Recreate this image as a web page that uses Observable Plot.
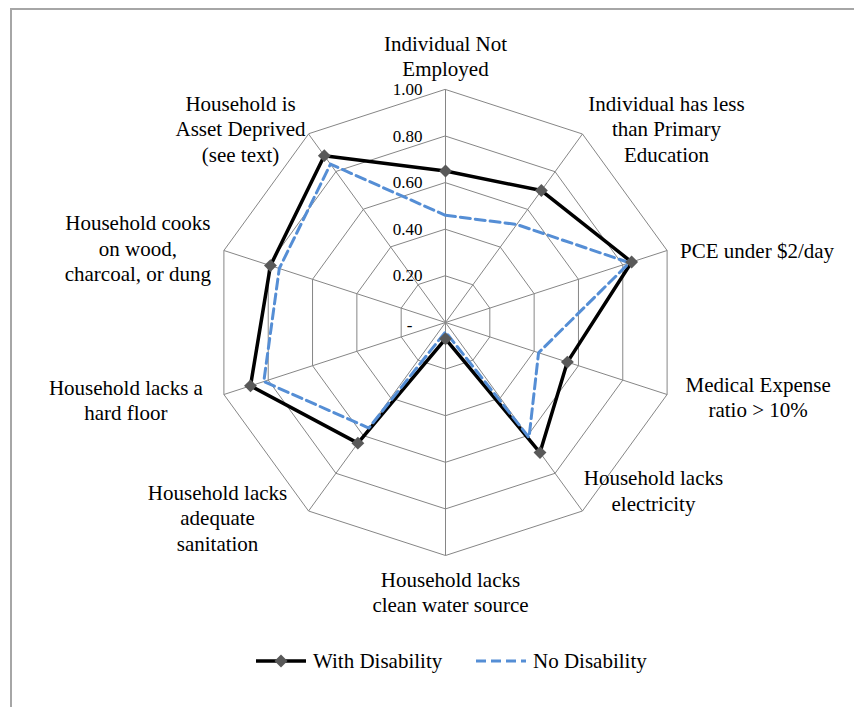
<!DOCTYPE html>
<html>
<head>
<meta charset="utf-8">
<script src="https://cdn.jsdelivr.net/npm/d3@7"></script>
<script src="https://cdn.jsdelivr.net/npm/@observablehq/plot@0.6"></script>
<style>
  html, body { margin: 0; padding: 0; background: #fff; }
  body { width: 854px; height: 707px; position: relative; overflow: hidden; font-family: "Liberation Serif", Tinos, "Times New Roman", "DejaVu Serif", serif; }
  #frame { position: absolute; left: 10px; top: 8px; width: 900px; height: 760px; border-left: 2px solid #a6a6a6; border-top: 2px solid #a6a6a6; box-sizing: border-box; }
  #chart { position: absolute; left: 0; top: 0; }
  #chart svg, #chart svg text { font-family: "Liberation Serif", Tinos, "Times New Roman", "DejaVu Serif", serif; }
  #legend { position: absolute; top: 646px; left: 0; width: 854px; height: 30px; }
  .item { position: absolute; top: 0; display: flex; align-items: center; font-size: 21px; color: #000; white-space: nowrap; }
  .item svg { margin-right: 6px; }
</style>
</head>
<body>
<div id="frame"></div>
<div id="chart"></div>
<div id="legend"></div>
<script>
// ---- data ----
const axes = [
  "Individual Not\nEmployed",
  "Individual has less\nthan Primary\nEducation",
  "PCE under $2/day",
  "Medical Expense\nratio > 10%",
  "Household lacks\nelectricity",
  "Household lacks\nclean water source",
  "Household lacks\nadequate\nsanitation",
  "Household lacks a\nhard floor",
  "Household cooks\non wood,\ncharcoal, or dung",
  "Household is\nAsset Deprived\n(see text)"
];
const withDisability = [0.65, 0.70, 0.84, 0.55, 0.69, 0.07, 0.64, 0.88, 0.79, 0.885];
const noDisability   = [0.46, 0.52, 0.83, 0.42, 0.61, 0.04, 0.56, 0.82, 0.75, 0.84];
const ticks = [0, 0.2, 0.4, 0.6, 0.8, 1.0];
const tickLabels = ["-", "0.20", "0.40", "0.60", "0.80", "1.00"];
const seriesNames = ["With Disability", "No Disability"];

// ---- layout ----
const W = 854, H = 640;
const CX = 445, CY = 322, R = 233;
const withColor = "#000000", markerColor = "#595959", noColor = "#558ed5", gridColor = "#868686";
const font = "'Liberation Serif', Tinos, 'Times New Roman', 'DejaVu Serif', serif";
// label offsets (px) from the outer end of each spoke: [dx, dy, anchor]
const labelLayout = [
  [0, -34, "middle"], [84, -6, "middle"], [13, -1, "start"], [91, 2, "middle"], [71, -21, "middle"],
  [5, 36, "middle"], [-91, 6, "middle"], [-98, 5, "middle"], [-86, -3, "middle"], [-68, -6, "middle"]
];

const n = axes.length;
const ang = i => i * 2 * Math.PI / n;
const px = (i, r) => r * Math.sin(ang(i));
const py = (i, r) => r * Math.cos(ang(i));

const gridPts = ticks.slice(1).flatMap(level => axes.map((a, i) => ({level, x: px(i, level), y: py(i, level)})));
const seriesRows = (vals) => vals.map((v, i) => ({x: px(i, v), y: py(i, v)}));
const withRows = seriesRows(withDisability);
const noRows = seriesRows(noDisability);
const idx = axes.map((a, i) => i);

const marks = [
  Plot.line(gridPts, {x: "x", y: "y", z: "level", curve: "linear-closed", stroke: gridColor, strokeWidth: 1}),
  Plot.link(idx, {x1: 0, y1: 0, x2: i => px(i, 1), y2: i => py(i, 1), stroke: gridColor, strokeWidth: 1}),
  Plot.line(withRows, {x: "x", y: "y", curve: "linear-closed", stroke: withColor, strokeWidth: 3.5, strokeLinejoin: "miter"}),
  Plot.line(noRows, {x: "x", y: "y", curve: "linear-closed", stroke: noColor, strokeWidth: 3, strokeDasharray: "10,5"}),
  Plot.dot(withRows, {x: "x", y: "y", symbol: "diamond2", r: 5.8, fill: markerColor, stroke: "none"}),
  Plot.text(ticks.slice(1), {x: 0, y: d => d, text: d => tickLabels[ticks.indexOf(d)], textAnchor: "end", dx: -23, fontSize: 17, fill: "#000"}),
  Plot.text([0], {x: 0, y: 0, text: d => tickLabels[ticks.indexOf(d)], textAnchor: "end", dx: -33, dy: 3, fontSize: 17, fill: "#000"}),
  ...axes.map((label, i) => Plot.text([label], {
    x: px(i, 1), y: py(i, 1), text: d => d,
    dx: labelLayout[i][0], dy: labelLayout[i][1], textAnchor: labelLayout[i][2],
    lineAnchor: "middle", lineHeight: 1.21, fontSize: 21, fill: "#000"
  }))
];

const chart = Plot.plot({
  width: W, height: H,
  margin: 0,
  x: {domain: [-CX / R, (W - CX) / R], range: [0, W], axis: null},
  y: {domain: [-(H - CY) / R, CY / R], range: [H, 0], axis: null},
  style: {fontFamily: font, background: "transparent", overflow: "visible"},
  marks
});
document.getElementById("chart").appendChild(chart);

// ---- legend ----
const legend = document.getElementById("legend");
const legendX = [255, 475];
seriesNames.forEach((name, k) => {
  const item = document.createElement("div");
  item.className = "item";
  item.style.left = legendX[k] + "px";
  const sw = k === 0
    ? `<svg width="52" height="30"><line x1="1" y1="15" x2="51" y2="15" stroke="${withColor}" stroke-width="3.5"/><path d="M26 8.5 L32.5 15 L26 21.5 L19.5 15 Z" fill="${markerColor}"/></svg>`
    : `<svg width="52" height="30"><line x1="1" y1="15" x2="51" y2="15" stroke="${noColor}" stroke-width="3" stroke-dasharray="10,5"/></svg>`;
  item.innerHTML = sw + `<span>${name}</span>`;
  legend.appendChild(item);
});
</script>
</body>
</html>
